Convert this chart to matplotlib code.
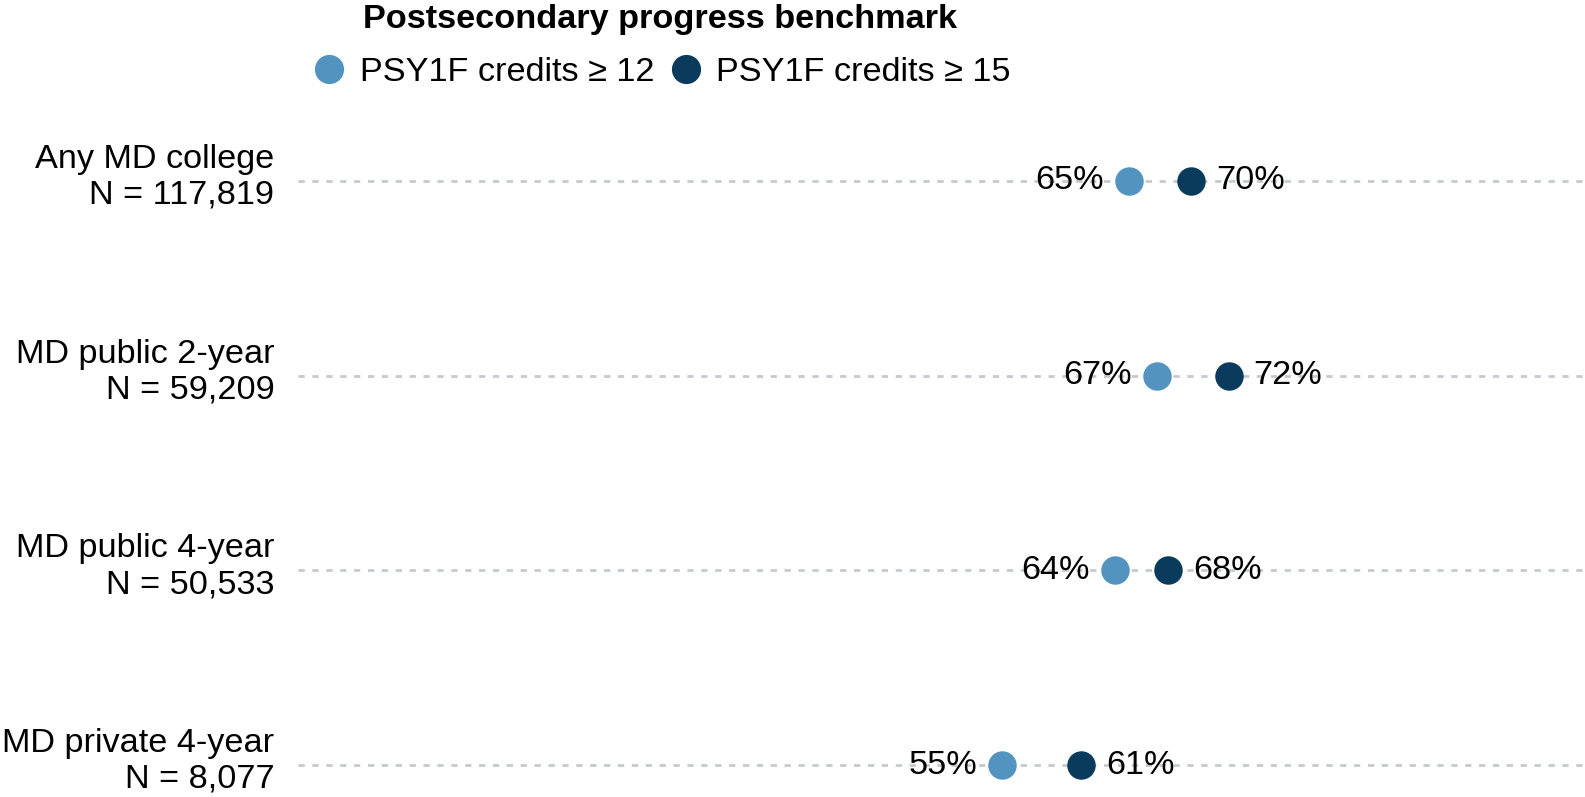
import numpy as np
import matplotlib.pyplot as plt
from matplotlib.lines import Line2D

plt.rcParams['font.family'] = ['Liberation Sans', 'DejaVu Sans']
plt.rcParams['lines.scale_dashes'] = False

# data, top row first
groups = ['Any MD college', 'MD public 2-year', 'MD public 4-year', 'MD private 4-year']
counts = ['117,819', '59,209', '50,533', '8,077']
credits12 = [64.9, 67.1, 63.8, 55.0]
credits15 = [69.8, 72.7, 68.0, 61.2]
labels12 = ['65%', '67%', '64%', '55%']
labels15 = ['70%', '72%', '68%', '61%']
series_names = ['PSY1F credits \u2265 12', 'PSY1F credits \u2265 15']

light = '#5294BF'
dark = '#0A3B5C'
grid_col = '#C4CACF'
fs = 24.7

W, H = 1585, 797
fig = plt.figure(figsize=(W / 100, H / 100), dpi=100)

# axes spans from the start of the dashed lines to the right edge
left_px = 298
ax = fig.add_axes([left_px / W, 0, 1 - left_px / W, 1])

ypos = np.arange(len(groups))[::-1]
row_gap = 194.7
bottom_px = 32
ax.set_ylim(-bottom_px / row_gap, (H - bottom_px) / row_gap)
ax.set_xlim(0, (W - left_px) / 12.8)

ax.hlines(ypos, 0, 200, color=grid_col, lw=2.0, linestyle=(0, (4.5, 5.5)), zorder=1)

ax.scatter(credits12, ypos, s=420, color=light, zorder=3, clip_on=False, linewidths=0)
ax.scatter(credits15, ypos, s=420, color=dark, zorder=3, clip_on=False, linewidths=0)

for y, v, t in zip(ypos, credits12, labels12):
    ax.annotate(t, (v, y), xytext=(-18, 0), textcoords='offset points',
                ha='right', va='center', fontsize=fs, color='black')
for y, v, t in zip(ypos, credits15, labels15):
    ax.annotate(t, (v, y), xytext=(18, 0), textcoords='offset points',
                ha='left', va='center', fontsize=fs, color='black')

# row labels, sitting a little above the dashed line
for y, g, n in zip(ypos, groups, counts):
    ax.annotate(f'{g}\nN = {n}', (0, y), xycoords=ax.get_yaxis_transform(),
                xytext=(-17, 2.5), textcoords='offset points', ha='right', va='center',
                multialignment='right', fontsize=fs, linespacing=1.2,
                annotation_clip=False)

ax.set_yticks([])
ax.set_xticks([])
for s in ax.spines.values():
    s.set_visible(False)

handles = [Line2D([], [], marker='o', ls='', markersize=21, color=c, markeredgewidth=0)
           for c in (light, dark)]
leg = fig.legend(handles, series_names, ncol=2, frameon=False, fontsize=fs,
                 title='Postsecondary progress benchmark',
                 title_fontproperties={'weight': 'bold', 'size': fs},
                 loc='upper left', bbox_to_anchor=(295 / W, 1.012),
                 handletextpad=0.3, columnspacing=0.3, borderaxespad=0,
                 labelspacing=0.65, alignment='center', handlelength=1.2)

fig.savefig('out.png', dpi=100)
